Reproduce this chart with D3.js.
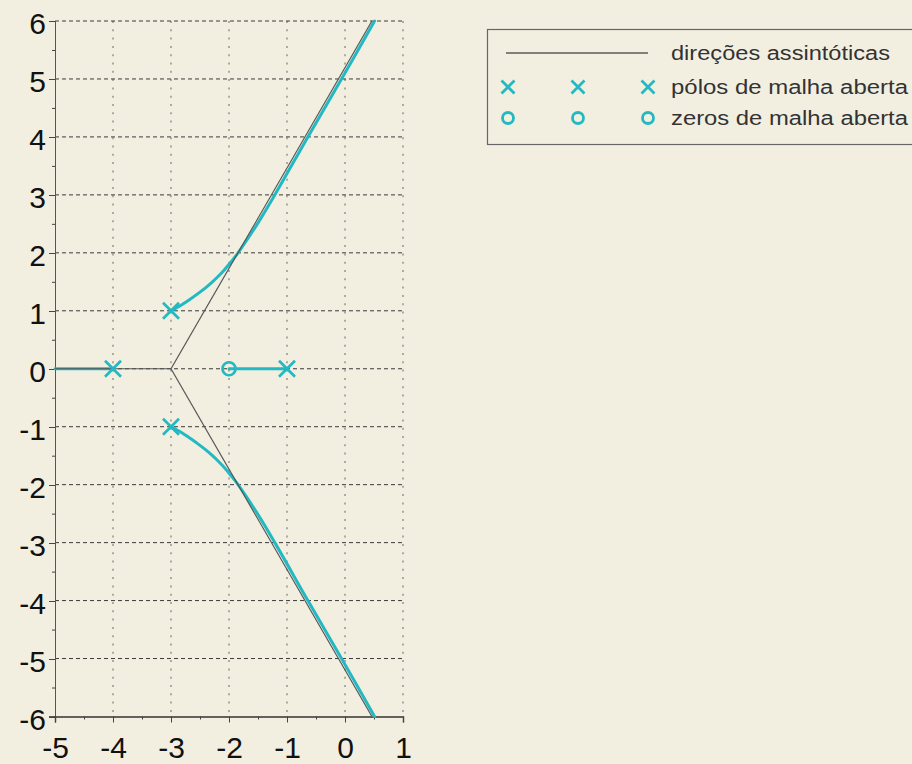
<!DOCTYPE html>
<html>
<head>
<meta charset="utf-8">
<script src="https://cdn.jsdelivr.net/npm/d3@7"></script>
<style>
  html, body { margin: 0; padding: 0; background: #f2efe1; }
  svg { display: block; }
  text { font-family: "Liberation Sans", Arial, sans-serif; }
</style>
</head>
<body>
<svg id="chart" width="912" height="764"></svg>
<script>
// Axis ticks
const xTicks = [-5, -4, -3, -2, -1, 0, 1];
const yTicks = [-6, -5, -4, -3, -2, -1, 0, 1, 2, 3, 4, 5, 6];
const xMinor = [-4.5, -3.5, -2.5, -1.5, -0.5, 0.5];
const yMinor = [-5.5, -4.5, -3.5, -2.5, -1.5, -0.5, 0.5, 1.5, 2.5, 3.5, 4.5, 5.5];

// Open-loop poles and zeros [re, im]
const poles = [[-4, 0], [-3, 1], [-3, -1], [-1, 0]];
const zeros = [[-2, 0]];

// Asymptotes leaving the centroid (-3, 0)
const asymptoteUp = [[-3, 0], [0.464, 6]];
const asymptoteDown = [[-3, 0], [0.464, -6]];
const asymptoteLeft = [[-3, 0], [-5, 0]];

// Root-locus branches [re, im]
const branchUpper = [
  [-3, 1], [-2.91, 1.05], [-2.82, 1.1], [-2.67, 1.2], [-2.53, 1.3], [-2.40, 1.4],
  [-2.285, 1.5], [-2.18, 1.6], [-2.085, 1.7], [-1.96, 1.85], [-1.844, 2.0],
  [-1.51, 2.5], [-1.21, 3], [-0.64, 4], [-0.06, 5], [0.51, 6]
];
const branchLower = [
  [-3, -1], [-2.91, -1.05], [-2.82, -1.1], [-2.67, -1.2], [-2.53, -1.3], [-2.40, -1.4],
  [-2.285, -1.5], [-2.18, -1.6], [-2.085, -1.7], [-1.96, -1.85], [-1.844, -2.0],
  [-1.51, -2.5], [-1.21, -3], [-0.64, -4], [-0.06, -5], [0.51, -6]
];
const branchRealLeft = [[-4, 0], [-5, 0]];
const branchRealRight = [[-1, 0], [-2, 0]];

const legendLabels = ["direções assintóticas", "pólos de malha aberta", "zeros de malha aberta"];

const CYAN = "#22b9c2";
const svg = d3.select("#chart");

const x = d3.scaleLinear().domain([-5, 1]).range([55, 403]);
const y = d3.scaleLinear().domain([-6, 6]).range([716.5, 21]);

const line = d3.line().x(d => x(d[0])).y(d => y(d[1]));
const tickText = d => String(d);

// Grid: dotted verticals, dashed horizontals
svg.append("g").selectAll("line").data(xTicks.filter(v => v > -5)).join("line")
  .attr("x1", d => x(d)).attr("x2", d => x(d))
  .attr("y1", y(6)).attr("y2", y(-6))
  .attr("stroke", "#9a9a94").attr("stroke-width", 1.6)
  .attr("stroke-dasharray", "2,6.3");

svg.append("g").selectAll("line").data(yTicks.filter(v => v > -6)).join("line")
  .attr("x1", x(-5)).attr("x2", x(1))
  .attr("y1", d => y(d)).attr("y2", d => y(d))
  .attr("stroke", "#3a3a3a").attr("stroke-width", 1)
  .attr("stroke-dasharray", "4,3");

// Axes
const gLeft = svg.append("g").attr("transform", `translate(${x(-5)},0)`)
  .call(d3.axisLeft(y).tickValues(yTicks).tickSize(6).tickFormat(tickText));
const gBottom = svg.append("g").attr("transform", `translate(0,${y(-6)})`)
  .call(d3.axisBottom(x).tickValues(xTicks).tickSize(6).tickFormat(tickText));
svg.append("g").attr("transform", `translate(${x(-5)},0)`)
  .call(d3.axisLeft(y).tickValues(yMinor).tickSize(3).tickFormat(""))
  .call(g => g.select(".domain").remove());
svg.append("g").attr("transform", `translate(0,${y(-6)})`)
  .call(d3.axisBottom(x).tickValues(xMinor).tickSize(3).tickFormat(""))
  .call(g => g.select(".domain").remove());

svg.selectAll(".tick line").attr("stroke", "#444");
gLeft.select(".domain").attr("stroke", "#555").attr("stroke-width", 1.8);
gBottom.select(".domain").attr("stroke", "#333").attr("stroke-width", 1.4);
gLeft.selectAll(".domain, .tick line").attr("shape-rendering", "crispEdges");

gLeft.selectAll(".tick text")
  .attr("x", -9).attr("dy", "0.42em")
  .style("font-size", "30px").style("font-family", "Liberation Sans, Arial, sans-serif")
  .attr("fill", "#111");
gBottom.selectAll(".tick text")
  .attr("y", 20).attr("dy", "0.71em")
  .style("font-size", "30px").style("font-family", "Liberation Sans, Arial, sans-serif")
  .attr("fill", "#111");

// Root locus branches
const locus = svg.append("g").attr("fill", "none").attr("stroke", CYAN)
  .attr("stroke-width", 3).attr("stroke-linecap", "round").attr("stroke-linejoin", "round");
const smooth = d3.line().x(d => x(d[0])).y(d => y(d[1])).curve(d3.curveCatmullRom);
[branchUpper, branchLower, branchRealLeft, branchRealRight].forEach(b => {
  locus.append("path").attr("d", smooth(b));
});

// Asymptotic directions
const asy = svg.append("g").attr("fill", "none").attr("stroke", "#555").attr("stroke-width", 1.2);
[asymptoteUp, asymptoteDown, asymptoteLeft].forEach(a => asy.append("path").attr("d", line(a)));

// Markers
function cross(g, cx, cy, r, w) {
  g.append("path")
    .attr("d", `M${cx - r},${cy - r}L${cx + r},${cy + r}M${cx - r},${cy + r}L${cx + r},${cy - r}`)
    .attr("stroke", CYAN).attr("stroke-width", w).attr("fill", "none");
}
function ring(g, cx, cy, r, w) {
  g.append("circle").attr("cx", cx).attr("cy", cy).attr("r", r)
    .attr("stroke", CYAN).attr("stroke-width", w).attr("fill", "none");
}
const marks = svg.append("g");
poles.forEach(p => cross(marks, x(p[0]), y(p[1]), 8, 2.7));
zeros.forEach(z => ring(marks, x(z[0]), y(z[1]), 6.5, 2.7));

// Legend
const lg = svg.append("g");
lg.append("rect").attr("x", 487.5).attr("y", 29.5).attr("width", 440).attr("height", 115)
  .attr("fill", "none").attr("stroke", "#666").attr("stroke-width", 1.2);
lg.append("line").attr("x1", 506).attr("x2", 648).attr("y1", 53).attr("y2", 53)
  .attr("stroke", "#111").attr("stroke-width", 1.2);
[508, 578, 648].forEach(cx => {
  cross(lg, cx, 87, 6.5, 2.8);
  ring(lg, cx, 118, 5.5, 2.8);
});
const rowsY = [53, 87, 118];
const rowsW = [219, 237, 237];
legendLabels.forEach((t, i) => {
  lg.append("text").attr("x", 671).attr("y", rowsY[i]).attr("dy", "0.36em")
    .attr("textLength", rowsW[i]).attr("lengthAdjust", "spacingAndGlyphs")
    .style("font-size", "20px").attr("fill", "#333").text(t);
});
</script>
</body>
</html>
